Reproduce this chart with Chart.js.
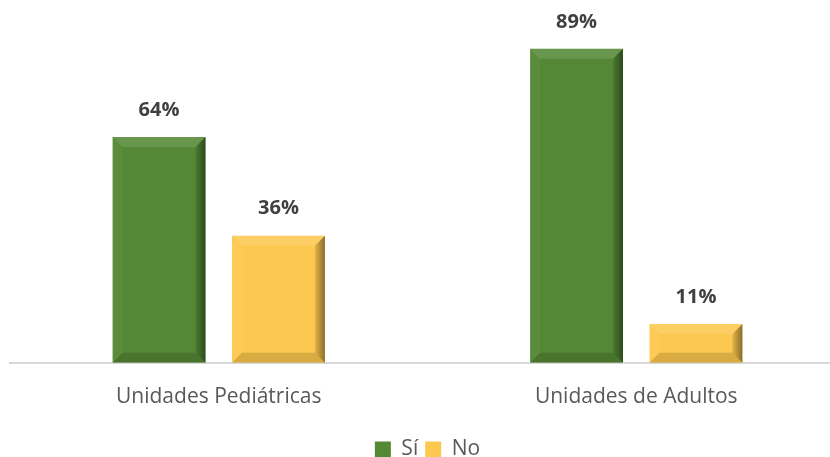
<!DOCTYPE html>
<html>
<head>
<meta charset="utf-8">
<script src="https://cdn.jsdelivr.net/npm/chart.js@4/dist/chart.umd.min.js"></script>
<style>
    html, body { margin: 0; padding: 0; background: #fff; overflow: hidden; width: 830px; height: 457px; }
    #wrap { width: 845px; height: 470px; position: relative; }
</style>
</head>
<body>
<div id="wrap"><canvas id="grafico"></canvas></div>
<script>
const categorias = ['Unidades Pediátricas', 'Unidades de Adultos'];
const valoresSi = [64, 89];
const valoresNo = [36, 11];
const etiquetasSerie = ['Sí', 'No'];

const FONT = "'Open Sans', 'DejaVu Sans', sans-serif";

// relieve tipo "bisel" encima de cada barra
const biselPlugin = {
    id: 'bisel',
    afterDatasetsDraw(chart) {
        const ctx = chart.ctx;
        chart.data.datasets.forEach((ds, i) => {
            const meta = chart.getDatasetMeta(i);
            meta.data.forEach(bar => {
                const w = bar.width;
                const l = bar.x - w / 2, r = bar.x + w / 2;
                const t = bar.y, b = bar.base;
                const h = b - t;
                const s = Math.min(10, h / 2, w / 2);
                ctx.save();
                // arriba, claro
                ctx.fillStyle = 'rgba(255,255,255,0.12)';
                ctx.beginPath();
                ctx.moveTo(l, t); ctx.lineTo(r, t); ctx.lineTo(r - s, t + s); ctx.lineTo(l + s, t + s);
                ctx.closePath(); ctx.fill();
                // izquierda
                ctx.fillStyle = 'rgba(255,255,255,0.04)';
                ctx.beginPath();
                ctx.moveTo(l, t); ctx.lineTo(l + s, t + s); ctx.lineTo(l + s, b - s); ctx.lineTo(l, b);
                ctx.closePath(); ctx.fill();
                // derecha, oscuro con degradado
                const g = ctx.createLinearGradient(r - s, 0, r, 0);
                g.addColorStop(0, 'rgba(0,0,0,0.10)');
                g.addColorStop(1, 'rgba(0,0,0,0.45)');
                ctx.fillStyle = g;
                ctx.beginPath();
                ctx.moveTo(r, t); ctx.lineTo(r, b); ctx.lineTo(r - s, b - s); ctx.lineTo(r - s, t + s);
                ctx.closePath(); ctx.fill();
                // abajo
                ctx.fillStyle = 'rgba(0,0,0,0.14)';
                ctx.beginPath();
                ctx.moveTo(l, b); ctx.lineTo(l + s, b - s); ctx.lineTo(r - s, b - s); ctx.lineTo(r, b);
                ctx.closePath(); ctx.fill();
                ctx.restore();
            });
        });
    }
};

// porcentajes encima de las barras
const etiquetasPlugin = {
    id: 'etiquetas',
    afterDatasetsDraw(chart) {
        const ctx = chart.ctx;
        ctx.save();
        ctx.font = `bold 20px ${FONT}`;
        ctx.fillStyle = '#404040';
        ctx.textAlign = 'center';
        ctx.textBaseline = 'middle';
        chart.data.datasets.forEach((ds, i) => {
            chart.getDatasetMeta(i).data.forEach((bar, j) => {
                ctx.fillText(ds.data[j] + '%', bar.x, bar.y - 27);
            });
        });
        ctx.restore();
    }
};

new Chart(document.getElementById('grafico'), {
    type: 'bar',
    data: {
        labels: categorias,
        datasets: [
            { label: etiquetasSerie[0], data: valoresSi, backgroundColor: '#548835' },
            { label: etiquetasSerie[1], data: valoresNo, backgroundColor: '#FDC84F' }
        ]
    },
    options: {
        responsive: true,
        maintainAspectRatio: false,
        animation: false,
        categoryPercentage: 0.572,
        barPercentage: 0.778,
        layout: { padding: { top: 10, left: 10, right: 0, bottom: 0 } },
        plugins: {
            tooltip: { enabled: false },
            legend: {
                position: 'bottom',
                labels: {
                    font: { family: FONT, size: 21 },
                    color: '#595959',
                    boxWidth: 16,
                    boxHeight: 16,
                    padding: 7
                }
            }
        },
        scales: {
            x: {
                grid: { display: false, drawTicks: false },
                border: { color: '#d9d9d9', width: 2 },
                ticks: { font: { family: FONT, size: 21 }, color: '#595959', padding: 22 }
            },
            y: {
                min: 0,
                max: 100,
                display: false
            }
        }
    },
    plugins: [biselPlugin, etiquetasPlugin]
});
</script>
</body>
</html>
